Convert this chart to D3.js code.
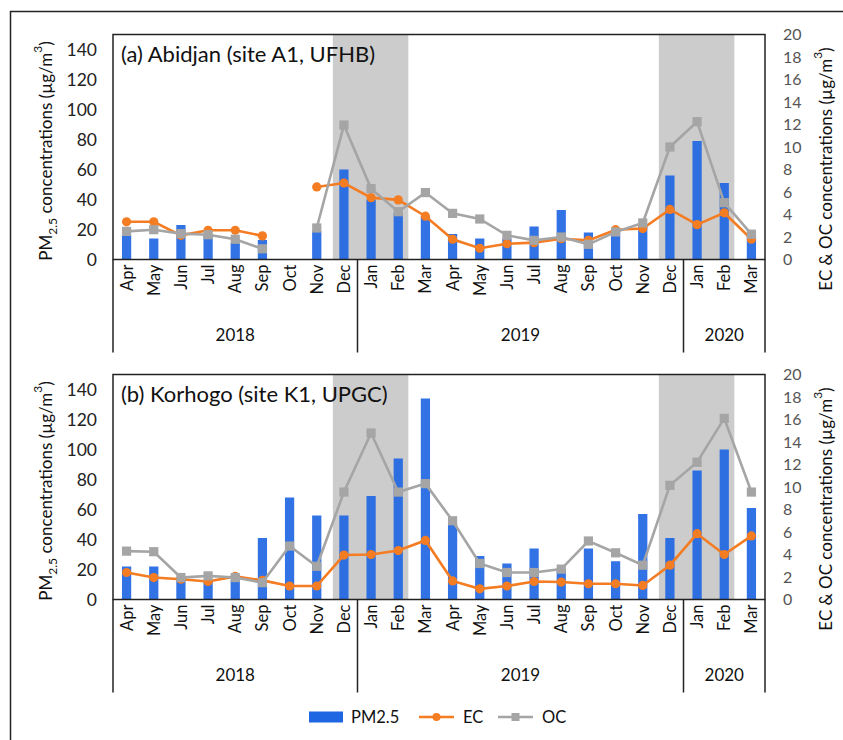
<!DOCTYPE html>
<html>
<head>
<meta charset="utf-8">
<script src="https://cdn.jsdelivr.net/npm/d3@7"></script>
<style>
  body { margin: 0; background: #fff; }
  svg { display: block; }
</style>
</head>
<body>
<svg id="chart" width="843" height="740"></svg>
<script>
// ---- data ---------------------------------------------------------------
const categories = [
  "Apr 2018","May 2018","Jun 2018","Jul 2018","Aug 2018","Sep 2018","Oct 2018","Nov 2018","Dec 2018",
  "Jan 2019","Feb 2019","Mar 2019","Apr 2019","May 2019","Jun 2019","Jul 2019","Aug 2019","Sep 2019",
  "Oct 2019","Nov 2019","Dec 2019","Jan 2020","Feb 2020","Mar 2020"
];
const years = ["2018", "2019", "2020"];
const pm25Ticks = [0, 20, 40, 60, 80, 100, 120, 140];
const ecocTicks = [0, 2, 4, 6, 8, 10, 12, 14, 16, 18, 20];
// dry (harmattan) periods, first and last month
const dryPeriods = [["Dec 2018", "Feb 2019"], ["Dec 2019", "Feb 2020"]];

// Abidjan, site A1 (UFHB)
const abidjanPM25 = [16, 14, 23, 17, 11, 13, null, 19, 60, 40, 31, 29, 17, 14, 14, 22, 33, 18, 20, 23, 56, 79, 51, 16];
const abidjanEC   = [3.35, 3.35, 2.15, 2.6, 2.6, 2.1, null, 6.45, 6.8, 5.5, 5.3, 3.85, 1.8, 1.0, 1.4, 1.5, 1.85, 1.7, 2.65, 2.75, 4.45, 3.1, 4.15, 1.8];
const abidjanOC   = [2.5, 2.65, 2.3, 2.2, 1.8, 0.95, null, 2.8, 11.95, 6.3, 4.25, 5.95, 4.1, 3.6, 2.15, 1.7, 2.0, 1.35, 2.45, 3.25, 10.0, 12.25, 5.05, 2.25];

// Korhogo, site K1 (UPGC)
const korhogoPM25 = [22, 22, 15, 12, 13, 41, 68, 56, 56, 69, 94, 134, 50, 29, 24, 34, 20, 34, 25.5, 57, 41, 86, 100, 61];
const korhogoEC   = [2.4, 1.95, 1.8, 1.6, 2.05, 1.7, 1.2, 1.2, 3.95, 4.0, 4.35, 5.25, 1.65, 0.95, 1.2, 1.6, 1.55, 1.4, 1.4, 1.25, 3.05, 5.85, 4.0, 5.65];
const korhogoOC   = [4.3, 4.25, 1.95, 2.1, 1.95, 1.5, 4.75, 2.95, 9.55, 14.8, 9.55, 10.3, 7.0, 3.2, 2.4, 2.4, 2.7, 5.2, 4.15, 3.05, 10.15, 12.2, 16.1, 9.55];

const panels = [
  { title: "(a) Abidjan (site A1, UFHB)", pm: abidjanPM25, ec: abidjanEC, oc: abidjanOC, top: 34.5, bottom: 259.5 },
  { title: "(b) Korhogo (site K1, UPGC)", pm: korhogoPM25, ec: korhogoEC, oc: korhogoOC, top: 374.5, bottom: 599.5 }
];

// ---- styles -------------------------------------------------------------
const FONT = "Lato, 'Noto Sans', sans-serif";
const BLUE = "#1f66e3";
const ORANGE = "#f47c22";
const GREY = "#a5a5a5";
const SHADE = "#cccccc";
const INK = "#111";

const svg = d3.select("#chart");
const left = 113, right = 765;

// outer frame
svg.append("rect")
  .attr("x", 10.5).attr("y", 11.5)
  .attr("width", 840).attr("height", 740)
  .attr("fill", "none").attr("stroke", "#222").attr("stroke-width", 1.5);

const x = d3.scaleBand().domain(categories).range([left, right]).padding(0);
const bw = x.bandwidth();
const barW = bw * 0.34;
const cx = c => x(c) + bw / 2;

// month label = first word, year = second word
const monthOf = c => c.split(" ")[0];
const yearOf = c => c.split(" ")[1];

panels.forEach(p => {
  const g = svg.append("g");
  const yL = d3.scaleLinear().domain([0, 150]).range([p.bottom, p.top]);
  const yR = d3.scaleLinear().domain([0, 20]).range([p.bottom, p.top]);

  // dry-season shading
  g.selectAll("rect.shade").data(dryPeriods).join("rect")
    .attr("class", "shade")
    .attr("x", d => x(d[0]) + 2.5)
    .attr("y", p.top)
    .attr("width", d => x(d[1]) + bw - x(d[0]) - 6)
    .attr("height", p.bottom - p.top)
    .attr("fill", SHADE);

  // PM2.5 bars
  const rows = categories.map((c, i) => ({ c, pm: p.pm[i], ec: p.ec[i], oc: p.oc[i] }));
  g.selectAll("rect.bar").data(rows.filter(d => d.pm != null)).join("rect")
    .attr("class", "bar")
    .attr("x", d => cx(d.c) - barW / 2)
    .attr("y", d => yL(d.pm))
    .attr("width", barW)
    .attr("height", d => yL(0) - yL(d.pm))
    .attr("fill", BLUE)
    .attr("fill-opacity", 0.92);

  // EC line + circles
  const lineEC = d3.line().defined(d => d.ec != null).x(d => cx(d.c)).y(d => yR(d.ec));
  g.append("path").datum(rows).attr("d", lineEC)
    .attr("fill", "none").attr("stroke", ORANGE).attr("stroke-width", 2.6);
  g.selectAll("circle.ec").data(rows.filter(d => d.ec != null)).join("circle")
    .attr("class", "ec")
    .attr("cx", d => cx(d.c)).attr("cy", d => yR(d.ec)).attr("r", 4.6)
    .attr("fill", ORANGE);

  // OC line + squares
  const lineOC = d3.line().defined(d => d.oc != null).x(d => cx(d.c)).y(d => yR(d.oc));
  g.append("path").datum(rows).attr("d", lineOC)
    .attr("fill", "none").attr("stroke", GREY).attr("stroke-width", 2.6);
  g.selectAll("rect.oc").data(rows.filter(d => d.oc != null)).join("rect")
    .attr("class", "oc")
    .attr("x", d => cx(d.c) - 4.6).attr("y", d => yR(d.oc) - 4.6)
    .attr("width", 9.2).attr("height", 9.2)
    .attr("fill", GREY);

  // plot frame
  g.append("rect")
    .attr("x", left).attr("y", p.top)
    .attr("width", right - left).attr("height", p.bottom - p.top)
    .attr("fill", "none").attr("stroke", "#222").attr("stroke-width", 1.5);

  // left axis (PM2.5)
  const axL = d3.axisLeft(yL).tickValues(pm25Ticks).tickSize(0).tickPadding(16);
  const gL = g.append("g").attr("transform", `translate(${left},0)`).call(axL);
  gL.select(".domain").remove();
  gL.selectAll("text").attr("font-family", FONT).attr("font-size", 17.5).attr("fill", "#222");

  // right axis (EC & OC)
  const axR = d3.axisRight(yR).tickValues(ecocTicks).tickSize(0).tickPadding(18);
  const gR = g.append("g").attr("transform", `translate(${right},0)`).call(axR);
  gR.select(".domain").remove();
  gR.selectAll("text").attr("font-family", FONT).attr("font-size", 16).attr("fill", "#555");

  // month labels
  const gx = g.append("g").attr("transform", `translate(0,${p.bottom})`);
  gx.selectAll("text.month").data(categories).join("text")
    .attr("class", "month")
    .attr("transform", d => `translate(${cx(d)},5) rotate(-90)`)
    .attr("dy", "0.36em")
    .attr("text-anchor", "end")
    .attr("font-family", FONT).attr("font-size", 16.5).attr("fill", INK)
    .text(monthOf);

  // year groups and separators
  const yearGroups = years.map(yr => {
    const cs = categories.filter(c => yearOf(c) === yr);
    return { yr, x0: x(cs[0]), x1: x(cs[cs.length - 1]) + bw };
  });
  gx.selectAll("line.sep").data([left, ...yearGroups.map(d => d.x1)]).join("line")
    .attr("class", "sep")
    .attr("x1", d => d).attr("x2", d => d)
    .attr("y1", 0).attr("y2", 93)
    .attr("stroke", "#222").attr("stroke-width", 1.5);
  gx.selectAll("text.year").data(yearGroups).join("text")
    .attr("class", "year")
    .attr("x", d => (d.x0 + d.x1) / 2).attr("y", 81)
    .attr("text-anchor", "middle")
    .attr("font-family", FONT).attr("font-size", 17).attr("fill", INK)
    .text(d => d.yr);

  // panel title
  g.append("text")
    .attr("x", 121).attr("y", p.top + 27.5)
    .attr("font-family", FONT).attr("font-size", 22).attr("fill", INK)
    .text(p.title);

  // axis titles
  const tL = g.append("text")
    .attr("transform", `translate(45,${(p.top + p.bottom) / 2 + 4}) rotate(-90)`)
    .attr("text-anchor", "middle").attr("dominant-baseline", "central")
    .attr("font-family", FONT).attr("font-size", 17).attr("fill", INK);
  tL.append("tspan").text("PM");
  tL.append("tspan").attr("font-size", 12).attr("baseline-shift", "sub").text("2.5");
  tL.append("tspan").text(" concentrations (µg/m");
  tL.append("tspan").attr("font-size", 12).attr("baseline-shift", "super").text("3");
  tL.append("tspan").text(")");

  const tR = g.append("text")
    .attr("transform", `translate(825,${(p.top + p.bottom) / 2 + 22}) rotate(-90)`)
    .attr("text-anchor", "middle").attr("dominant-baseline", "central")
    .attr("font-family", FONT).attr("font-size", 17).attr("fill", INK);
  tR.append("tspan").text("EC & OC concentrations (µg/m");
  tR.append("tspan").attr("font-size", 12).attr("baseline-shift", "super").text("3");
  tR.append("tspan").text(")");
});

// ---- legend -------------------------------------------------------------
const lg = svg.append("g").attr("transform", "translate(0,717)");
lg.append("rect").attr("x", 309).attr("y", -5.5).attr("width", 34).attr("height", 11).attr("fill", BLUE);
lg.append("text").attr("x", 351).attr("y", 0).attr("dominant-baseline", "central")
  .attr("font-family", FONT).attr("font-size", 16.5).attr("fill", INK).text("PM2.5");
lg.append("line").attr("x1", 419).attr("x2", 454).attr("y1", 0).attr("y2", 0)
  .attr("stroke", ORANGE).attr("stroke-width", 2.6);
lg.append("circle").attr("cx", 436.5).attr("cy", 0).attr("r", 4).attr("fill", ORANGE);
lg.append("text").attr("x", 463).attr("y", 0).attr("dominant-baseline", "central")
  .attr("font-family", FONT).attr("font-size", 16.5).attr("fill", INK).text("EC");
lg.append("line").attr("x1", 498).attr("x2", 533).attr("y1", 0).attr("y2", 0)
  .attr("stroke", GREY).attr("stroke-width", 2.6);
lg.append("rect").attr("x", 511.5).attr("y", -4).attr("width", 8).attr("height", 8).attr("fill", GREY);
lg.append("text").attr("x", 542).attr("y", 0).attr("dominant-baseline", "central")
  .attr("font-family", FONT).attr("font-size", 16.5).attr("fill", INK).text("OC");
</script>
</body>
</html>
